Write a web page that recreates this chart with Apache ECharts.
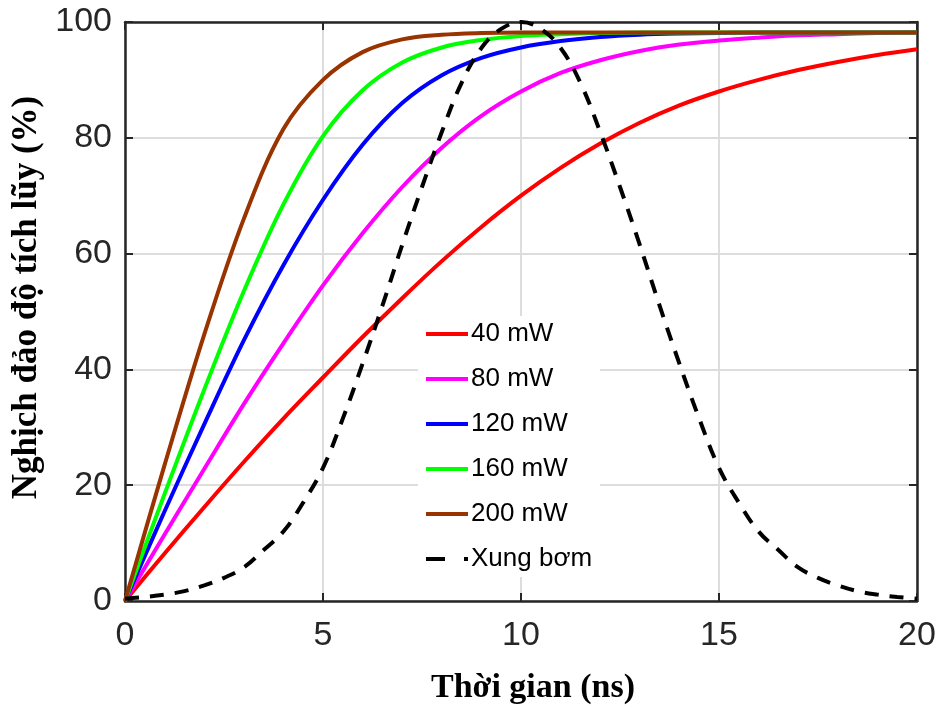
<!DOCTYPE html>
<html>
<head>
<meta charset="utf-8">
<script src="https://cdn.jsdelivr.net/npm/echarts@6/dist/echarts.min.js"></script>
<style>
html,body{margin:0;padding:0;background:#fff;}
#chart{width:937px;height:706px;}
</style>
</head>
<body>
<div id="chart"></div>
<script>
// Time axis (ns)
var tCurve = [0,1,2,3,4,5,6,7,8,9,10,11,12,13,14,15,16,17,18,19,20];
var p40  = [0,8.2,16.2,24,31.5,38.6,45.6,52.3,58.7,64.6,70,74.8,79,82.6,85.6,88,90,91.7,93.1,94.3,95.3];
var p80  = [0,11.5,22.8,34,44.5,54.5,63.5,71.5,78.3,83.8,88,91.2,93.4,95,96.1,96.8,97.3,97.7,97.9,98.1,98.2];
var p120 = [0,15.5,30.5,45,58,69.3,78.8,86,90.8,93.8,95.6,96.7,97.4,97.8,98,98.1,98.2,98.2,98.2,98.2,98.2];
var p160 = [0,18.5,36.5,53.5,68.5,80.3,88.2,93,95.6,96.9,97.6,97.9,98.1,98.2,98.2,98.2,98.2,98.2,98.2,98.2,98.2];
var p200 = [0,23.5,46,66,81.5,90,94.8,97,97.8,98.1,98.2,98.2,98.2,98.2,98.2,98.2,98.2,98.2,98.2,98.2,98.2];
var tPulse = [0,0.5,1,1.5,2,2.5,3,3.5,4,4.5,5,5.5,6,6.5,7,7.5,8,8.5,9,9.5,10,10.5,11,11.5,12,12.5,13,13.5,14,14.5,15,15.5,16,16.5,17,17.5,18,18.5,19,19.5,20];
var pulse = [0.4,0.7,1.1,1.7,2.7,4,5.8,8.8,12,17,23,31.5,41,51,61.5,71.5,81,89.5,95.5,98.8,100,98.8,95.5,89.5,81,71.5,61.5,51,41,31.5,23,17,12,8.8,5.8,4,2.7,1.7,1.1,0.7,0.4];
var seriesNames = ['40 mW','80 mW','120 mW','160 mW','200 mW','Xung bơm'];
var xTicks = [0,5,10,15,20];
var yTicks = [0,20,40,60,80,100];

function pairs(xs, ys){ return xs.map(function(x,i){ return [x, ys[i]]; }); }

var colors = ['#ff0000','#ff00ff','#0000ff','#00ff00','#993300','#000000'];
var curveData = [p40,p80,p120,p160,p200];
var series = curveData.map(function(d,i){
  return {
    name: seriesNames[i], type:'line', data: pairs(tCurve,d), smooth:0.35,
    symbol:'none', lineStyle:{color:colors[i], width:4}, itemStyle:{color:colors[i]},
    xAxisIndex:0, yAxisIndex:0, z:3
  };
});
series.push({
  name: seriesNames[5], type:'line', data: pairs(tPulse,pulse), smooth:0.4,
  symbol:'none', lineStyle:{color:'#000', width:4, type:[14,11]}, itemStyle:{color:'#000'},
  xAxisIndex:0, yAxisIndex:0, z:4
});

var solidIcon = 'path://M0,0h42v4h-42z';
var dashIcon = 'path://M0,0h19v4h-19z M38,0h4v4h-4z';
var legendData = seriesNames.map(function(n,i){
  return {name:n, icon: i < 5 ? solidIcon : dashIcon};
});

var axisCol = '#262626';
var labelFont = {fontFamily:'Liberation Sans, Arial, sans-serif', fontSize:34, color:axisCol};
var titleFont = {fontFamily:'Liberation Serif, Times New Roman, serif', fontWeight:'bold', fontSize:34, color:'#000'};
var chart = echarts.init(document.getElementById('chart'), null, {renderer:'canvas'});
chart.setOption({
  animation:false,
  backgroundColor:'#fff',
  grid:{left:125, right:20, top:22, bottom:105, containLabel:false, outerBoundsMode:'none'},
  legend:{
    orient:'vertical', left:418, top:316, data:legendData,
    itemWidth:42, itemHeight:4, itemGap:15, padding:[3,8,3,8],
    backgroundColor:'#fff',
    textStyle:{fontFamily:'Liberation Sans, Arial, sans-serif', fontSize:26, color:'#000', lineHeight:30, padding:[0,0,0,-2]}
  },
  xAxis:[{
    type:'value', min:0, max:20, interval:5, position:'bottom',
    axisLine:{show:true, onZero:false, lineStyle:{color:axisCol, width:2.5}},
    axisTick:{show:true, inside:true, length:8, lineStyle:{color:axisCol, width:2}},
    axisLabel:Object.assign({margin:18}, labelFont),
    splitLine:{show:true, lineStyle:{color:'#dddddd', width:2}},
    name:'Thời gian (ns)', nameLocation:'middle', nameGap:70,
    nameTextStyle:Object.assign({}, titleFont, {padding:[0,0,0,24]})
  },{
    type:'value', min:0, max:20, interval:5, position:'top',
    axisLine:{show:true, onZero:false, lineStyle:{color:axisCol, width:2.5}},
    axisTick:{show:true, inside:true, length:8, lineStyle:{color:axisCol, width:2}},
    axisLabel:{show:false}, splitLine:{show:false}
  }],
  yAxis:[{
    type:'value', min:0, max:100, interval:20, position:'left',
    axisLine:{show:true, onZero:false, lineStyle:{color:axisCol, width:2.5}},
    axisTick:{show:true, inside:true, length:8, lineStyle:{color:axisCol, width:2}},
    axisLabel:Object.assign({margin:13}, labelFont),
    splitLine:{show:true, lineStyle:{color:'#dddddd', width:2}},
    name:'Nghịch đảo độ tích lũy (%)', nameLocation:'middle', nameGap:80, nameRotate:90,
    nameTextStyle:Object.assign({}, titleFont, {fontSize:35, padding:[0,0,0,28]})
  },{
    type:'value', min:0, max:100, interval:20, position:'right',
    axisLine:{show:true, onZero:false, lineStyle:{color:axisCol, width:2.5}},
    axisTick:{show:true, inside:true, length:8, lineStyle:{color:axisCol, width:2}},
    axisLabel:{show:false}, splitLine:{show:false}
  }],
  series:series
});
</script>
</body>
</html>
